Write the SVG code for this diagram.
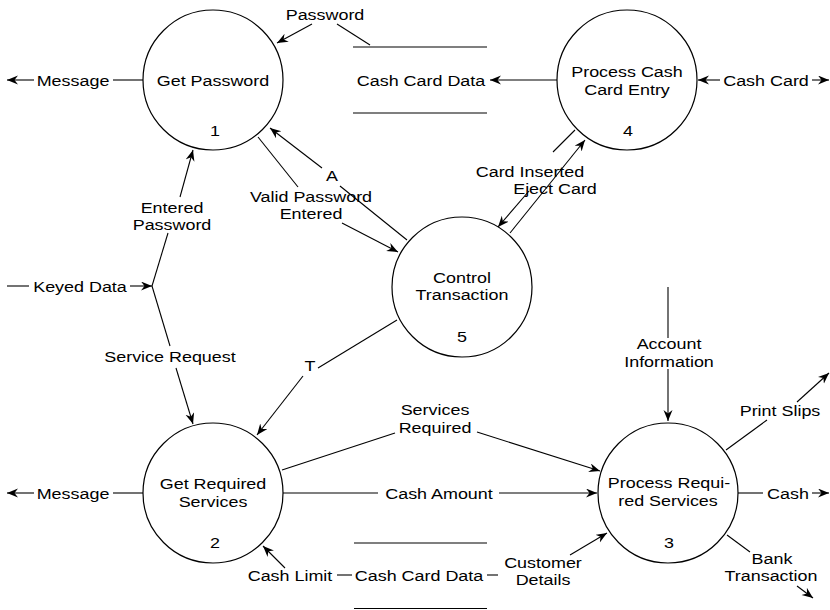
<svg xmlns="http://www.w3.org/2000/svg" width="830" height="610" viewBox="0 0 830 610">
<defs>
<marker id="ah" markerUnits="userSpaceOnUse" markerWidth="12" markerHeight="10" refX="11" refY="4.5" orient="auto">
<path d="M0,0 L11,4.5 L0,9 L3.5,4.5 z" fill="#000"/>
</marker>
<style>
.t{font-family:"Liberation Sans",Arial,sans-serif;font-size:15px;fill:#000;text-anchor:middle}
.c{fill:#fff;stroke:#000;stroke-width:1.2}
.s{stroke:#000;stroke-width:1.2;fill:none}
.f{stroke:#000;stroke-width:1.1;fill:none}
.a{marker-end:url(#ah)}
</style>
</defs>
<rect width="830" height="610" fill="#fff"/>

<g id="connectors">
<line class="f" x1="143" y1="80" x2="113" y2="80"/>
<line class="f a" x1="34" y1="80" x2="7" y2="80"/>
<line class="f" x1="143" y1="493" x2="113" y2="493"/>
<line class="f a" x1="34" y1="493" x2="7" y2="493"/>
<line class="f" x1="370" y1="45" x2="337" y2="24"/>
<line class="f a" x1="312" y1="24" x2="277" y2="43"/>
<line class="f a" x1="557" y1="80" x2="490" y2="80"/>
<line class="f a" x1="720" y1="80" x2="698" y2="80"/>
<line class="f a" x1="812" y1="80" x2="829" y2="80"/>
<line class="f" x1="575" y1="130" x2="553" y2="152"/>
<line class="f a" x1="529" y1="191" x2="498" y2="227"/>
<line class="f a" x1="510" y1="233" x2="585" y2="140"/>
<line class="f" x1="407" y1="240" x2="340" y2="186"/>
<line class="f a" x1="322" y1="168" x2="270" y2="128"/>
<line class="f" x1="258" y1="137" x2="298" y2="187"/>
<line class="f a" x1="342" y1="223" x2="398" y2="252"/>
<line class="f" x1="152" y1="286" x2="168" y2="233"/>
<line class="f a" x1="180" y1="197" x2="193" y2="150"/>
<line class="f" x1="7" y1="286" x2="29" y2="286"/>
<line class="f a" x1="130" y1="286" x2="152" y2="286"/>
<line class="f" x1="152" y1="286" x2="170" y2="346"/>
<line class="f a" x1="176" y1="368" x2="193" y2="424"/>
<line class="f" x1="397" y1="320" x2="318" y2="368"/>
<line class="f a" x1="303" y1="376" x2="257" y2="435"/>
<line class="f" x1="282" y1="470" x2="395" y2="433"/>
<line class="f a" x1="477" y1="432" x2="600" y2="471"/>
<line class="f" x1="283" y1="493" x2="378" y2="493"/>
<line class="f a" x1="499" y1="493" x2="597" y2="493"/>
<line class="f a" x1="285" y1="568" x2="263" y2="546"/>
<line class="f" x1="337" y1="575" x2="352" y2="575"/>
<line class="f" x1="487" y1="575" x2="498" y2="575"/>
<line class="f a" x1="570" y1="555" x2="607" y2="533"/>
<line class="f" x1="668" y1="287" x2="668" y2="338"/>
<line class="f a" x1="668" y1="369" x2="668" y2="421"/>
<line class="f" x1="726" y1="450" x2="767" y2="420"/>
<line class="f a" x1="797" y1="402" x2="829" y2="373"/>
<line class="f" x1="738" y1="493" x2="763" y2="493"/>
<line class="f a" x1="812" y1="493" x2="829" y2="493"/>
<line class="f" x1="727" y1="535" x2="750" y2="552"/>
<line class="f a" x1="797" y1="586" x2="813" y2="598"/>
</g>

<g id="labels">
<text class="t" transform="translate(73,85.5) scale(1.195,1)">Message</text>
<text class="t" transform="translate(73,498.5) scale(1.195,1)">Message</text>
<text class="t" transform="translate(325,19.5) scale(1.195,1)">Password</text>
<text class="t" transform="translate(766,85.5) scale(1.195,1)">Cash Card</text>
<text class="t" transform="translate(530,177) scale(1.195,1)">Card Inserted</text>
<text class="t" transform="translate(555,194) scale(1.195,1)">Eject Card</text>
<text class="t" transform="translate(332,180.5) scale(1.195,1)">A</text>
<text class="t" transform="translate(311,202) scale(1.195,1)">Valid Password</text>
<text class="t" transform="translate(311,219) scale(1.195,1)">Entered</text>
<text class="t" transform="translate(172,213) scale(1.195,1)">Entered</text>
<text class="t" transform="translate(172,230) scale(1.195,1)">Password</text>
<text class="t" transform="translate(80,291.5) scale(1.195,1)">Keyed Data</text>
<text class="t" transform="translate(170,361.5) scale(1.195,1)">Service Request</text>
<text class="t" transform="translate(310,370.5) scale(1.195,1)">T</text>
<text class="t" transform="translate(435,415) scale(1.195,1)">Services</text>
<text class="t" transform="translate(435,432.5) scale(1.195,1)">Required</text>
<text class="t" transform="translate(439,498.5) scale(1.195,1)">Cash Amount</text>
<text class="t" transform="translate(290,580.5) scale(1.195,1)">Cash Limit</text>
<text class="t" transform="translate(543,568) scale(1.195,1)">Customer</text>
<text class="t" transform="translate(543,585) scale(1.195,1)">Details</text>
<text class="t" transform="translate(669,349) scale(1.195,1)">Account</text>
<text class="t" transform="translate(669,366.5) scale(1.195,1)">Information</text>
<text class="t" transform="translate(780,415.5) scale(1.195,1)">Print Slips</text>
<text class="t" transform="translate(788,498.5) scale(1.195,1)">Cash</text>
<text class="t" transform="translate(772,564) scale(1.195,1)">Bank</text>
<text class="t" transform="translate(771,581) scale(1.195,1)">Transaction</text>
</g>

<g id="store-top">
<line class="s" x1="353" y1="47" x2="487" y2="47"/>
<line class="s" x1="353" y1="113" x2="487" y2="113"/>
<text class="t" transform="translate(421,85.5) scale(1.195,1)">Cash Card Data</text>
</g>

<g id="store-bottom">
<line class="s" x1="354" y1="543" x2="487" y2="543"/>
<line class="s" x1="354" y1="608.5" x2="487" y2="608.5"/>
<text class="t" transform="translate(419,580.5) scale(1.195,1)">Cash Card Data</text>
</g>

<g id="p1">
<circle class="c" cx="213" cy="80" r="70"/>
<text class="t" transform="translate(213,85.5) scale(1.195,1)">Get Password</text>
<text class="t" transform="translate(215,135.5) scale(1.195,1)">1</text>
</g>

<g id="p4">
<circle class="c" cx="627" cy="80" r="70"/>
<text class="t" transform="translate(627,77) scale(1.195,1)">Process Cash</text>
<text class="t" transform="translate(627,94.5) scale(1.195,1)">Card Entry</text>
<text class="t" transform="translate(628,135.5) scale(1.195,1)">4</text>
</g>

<g id="p5">
<circle class="c" cx="462" cy="287" r="70"/>
<text class="t" transform="translate(462,283) scale(1.195,1)">Control</text>
<text class="t" transform="translate(462,300) scale(1.195,1)">Transaction</text>
<text class="t" transform="translate(462,341.5) scale(1.195,1)">5</text>
</g>

<g id="p2">
<circle class="c" cx="213" cy="493" r="70"/>
<text class="t" transform="translate(213,489) scale(1.195,1)">Get Required</text>
<text class="t" transform="translate(213,506.5) scale(1.195,1)">Services</text>
<text class="t" transform="translate(215,547.5) scale(1.195,1)">2</text>
</g>

<g id="p3">
<circle class="c" cx="668" cy="493" r="70"/>
<text class="t" transform="translate(669,488) scale(1.195,1)">Process Requi-</text>
<text class="t" transform="translate(668,506) scale(1.195,1)">red Services</text>
<text class="t" transform="translate(669,547.5) scale(1.195,1)">3</text>
</g>
</svg>
